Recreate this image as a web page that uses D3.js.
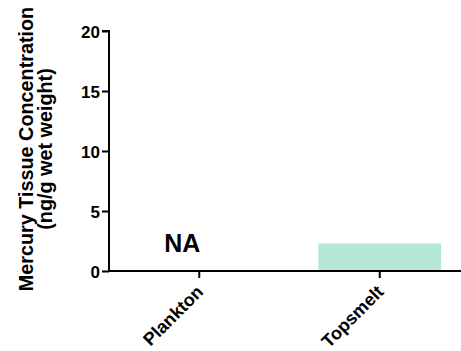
<!DOCTYPE html>
<html><head><meta charset="utf-8">
<script src="https://cdn.jsdelivr.net/npm/d3@7"></script>
<style>body{margin:0;background:#fff}svg{display:block}text{font-family:"Liberation Sans",Arial,sans-serif;font-weight:bold}</style>
</head><body>
<script>
const categories = ["Plankton", "Topsmelt"];
const values = [null, 2.3];
const naLabels = ["NA", ""];
const yTicks = [0, 5, 10, 15, 20];
const yTitle = ["Mercury Tissue Concentration", "(ng/g wet weight)"];

const W = 461, H = 351;
const svg = d3.select("body").append("svg").attr("width", W).attr("height", H);
const x0 = 109, yTop = 31, yBot = 271;
const x = d3.scaleBand().domain(categories).range([x0, 470]).paddingInner(0.32).paddingOuter(0.16);
const y = d3.scaleLinear().domain([0, 20]).range([yBot, yTop]);

// bars
svg.selectAll("rect.bar").data(categories.map((c, i) => ({c, v: values[i]})).filter(d => d.v != null))
  .enter().append("rect").attr("class", "bar")
  .attr("x", d => x(d.c)).attr("width", x.bandwidth())
  .attr("y", d => y(d.v)).attr("height", d => y(0) - y(d.v))
  .attr("fill", "#b4e8d5");

// NA labels
svg.selectAll("text.na").data(categories.map((c, i) => ({c, t: naLabels[i]})).filter(d => d.t))
  .enter().append("text").attr("class", "na")
  .attr("x", d => x(d.c) + x.bandwidth() / 2 - 17).attr("y", y(0) - 19)
  .attr("text-anchor", "middle").attr("font-size", 25).text(d => d.t);

// y axis
const ya = svg.append("g").attr("transform", `translate(${x0},0)`)
  .call(d3.axisLeft(y).tickValues(yTicks).tickSize(7).tickPadding(2));
ya.select(".domain").attr("stroke", "#000").attr("stroke-width", 2).attr("d", `M-7,${yTop}H0V${yBot}`);
ya.selectAll(".tick line").attr("stroke", "#000").attr("stroke-width", 2);
ya.selectAll(".tick text").attr("font-size", 17).attr("fill", "#000").attr("dy", "0.36em");

// x axis
const xa = svg.append("g").attr("transform", `translate(0,${yBot})`)
  .call(d3.axisBottom(x).tickSize(7).tickSizeOuter(0));
xa.select(".domain").attr("stroke", "#000").attr("stroke-width", 2).attr("d", `M${x0 - 1},0H${W}`);
xa.selectAll(".tick line").attr("stroke", "#000").attr("stroke-width", 2);
xa.selectAll(".tick text").attr("font-size", 18).attr("fill", "#000")
  .attr("text-anchor", "end").attr("dy", 0).attr("y", 0)
  .attr("transform", "translate(5,22) rotate(-45)");

// y title
const tg = svg.append("g").attr("transform", `translate(0,${(yTop + yBot) / 2 - 2}) rotate(-90)`);
tg.selectAll("text").data(yTitle).enter().append("text")
  .attr("x", 0).attr("y", (d, i) => 33 + i * 19)
  .attr("text-anchor", "middle").attr("font-size", 19.8).text(d => d);
</script>
</body></html>
